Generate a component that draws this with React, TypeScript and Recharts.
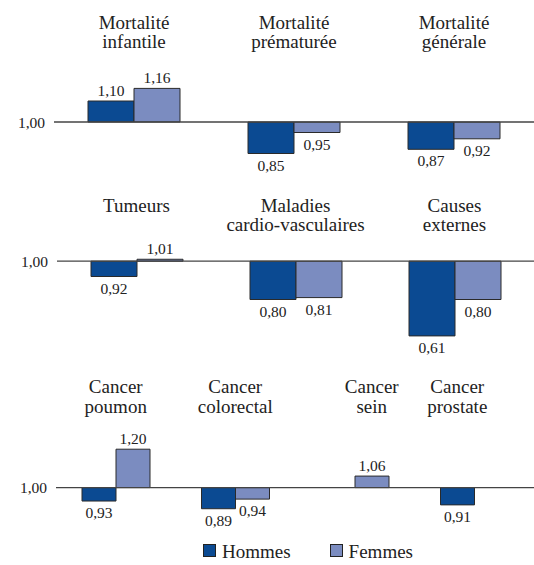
import { BarChart, Bar, XAxis, YAxis, ReferenceLine, LabelList } from "recharts";

const FONT = "Liberation Serif";
const HOMMES = "#0b4a92";
const FEMMES = "#7b8cc0";
const EDGE = "#2a2a2a";

// ligne 1 : mortalité
const cats1 = ["Mortalité\ninfantile", "Mortalité\nprématurée", "Mortalité\ngénérale"];
const hommes1 = [1.10, 0.85, 0.87];
const femmes1 = [1.16, 0.95, 0.92];

// ligne 2 : causes
const cats2 = ["Tumeurs", "Maladies\ncardio-vasculaires", "Causes\nexternes"];
const hommes2 = [0.92, 0.80, 0.61];
const femmes2 = [1.01, 0.81, 0.80];

// ligne 3 : cancers
const cats3 = ["Cancer\npoumon", "Cancer\ncolorectal", "Cancer\nsein", "Cancer\nprostate"];
const hommes3 = [0.93, 0.89, null, 0.91];
const femmes3 = [1.20, 0.94, 1.06, null];

const yTicks = [1];

const series = [
    { key: "hommes", label: "Hommes", color: HOMMES },
    { key: "femmes", label: "Femmes", color: FEMMES },
];

type Row = { name: string; hommes: number | null; femmes: number | null };

const build = (cats: string[], h: (number | null)[], f: (number | null)[]): Row[] =>
    cats.map((name, i) => ({ name, hommes: h[i], femmes: f[i] }));

const fmt = (v: number) => v.toFixed(2).replace(".", ",");

function ValueLabel(props: any) {
    const vb = props.viewBox ?? props;
    const { x, y, width, height } = vb;
    const value = props.value;
    if (value == null || x == null) return null;
    const top = Math.min(y, y + height);
    const bottom = Math.max(y, y + height);
    const ty = value >= 1 ? top - 5 : bottom + 17;
    return (
        <text x={x + width / 2} y={ty} textAnchor="middle" fontFamily={FONT} fontSize={15.5} fill="#222">
            {fmt(value)}
        </text>
    );
}

function TitleTick(props: any) {
    const { x, payload, data, baselines, barSize } = props;
    const row: Row = data[payload.index];
    let cx = x;
    // une seule barre : titre centré sur la barre
    if (row.hommes == null) cx += barSize / 2;
    if (row.femmes == null) cx -= barSize / 2;
    const lines = String(payload.value).split("\n");
    return (
        <text textAnchor="middle" fontFamily={FONT} fontSize={19} fill="#222">
            {lines.map((l, i) => (
                <tspan key={i} x={cx} y={baselines[i]}>{l}</tspan>
            ))}
        </text>
    );
}

function LegendBox() {
    return (
        <div style={{ position: "absolute", left: 0, top: 541, width: 534, display: "flex", alignItems: "center", paddingLeft: 203, boxSizing: "border-box", fontFamily: FONT, fontSize: 19, color: "#222", lineHeight: "22px" }}>
            {series.map((s, i) => (
                <div key={s.key} style={{ display: "flex", alignItems: "center", marginRight: i === 0 ? 39 : 0 }}>
                    <span style={{ display: "inline-block", width: 13, height: 13, background: s.color, border: "1px solid #222", boxSizing: "border-box", marginRight: 6, position: "relative", top: -2 }} />
                    <span>{s.label}</span>
                </div>
            ))}
        </div>
    );
}

type PanelProps = {
    data: Row[];
    height: number;
    axisHeight: number;
    bottom: number;
    domain: [number, number];
    yWidth: number;
    barSize: number;
    baselines: number[];
};

function Panel({ data, height, axisHeight, bottom, domain, yWidth, barSize, baselines }: PanelProps) {
    return (
        <BarChart width={534} height={height} data={data} margin={{ top: 0, right: 0, bottom, left: 0 }} barGap={0} barSize={barSize}>
            <XAxis
                dataKey="name"
                orientation="top"
                height={axisHeight}
                axisLine={false}
                tickLine={false}
                interval={0}
                tick={<TitleTick data={data} baselines={baselines} barSize={barSize} />}
            />
            <YAxis
                type="number"
                domain={domain}
                ticks={yTicks}
                tickFormatter={fmt}
                axisLine={false}
                tickLine={false}
                tickSize={0}
                tickMargin={9}
                width={yWidth}
                tick={{ fontFamily: FONT, fontSize: 15.5, fill: "#222" }}
            />
            {series.map((s) => (
                <Bar
                    key={s.key}
                    name={s.label}
                    dataKey={(d: any) => (d[s.key] == null ? null : [1, d[s.key]])}
                    fill={s.color}
                    stroke={EDGE}
                    strokeWidth={1}
                    isAnimationActive={false}
                >
                    <LabelList dataKey={s.key} content={<ValueLabel />} />
                </Bar>
            ))}
            <ReferenceLine y={1} stroke="#444" strokeWidth={1.3} />
        </BarChart>
    );
}

export default function App() {
    const row1 = build(cats1, hommes1, femmes1);
    const row2 = build(cats2, hommes2, femmes2);
    const row3 = build(cats3, hommes3, femmes3);

    return (
        <div style={{ position: "absolute", left: 0, top: 0, width: 534, height: 565, background: "#fff" }}>
            <Panel data={row1} height={180} axisHeight={80} bottom={16} domain={[0.8, 1.2]} yWidth={54} barSize={46} baselines={[29, 48]} />
            <Panel data={row2} height={180} axisHeight={62} bottom={3} domain={[0.5, 1.1]} yWidth={57} barSize={46} baselines={[31.5, 50.5]} />
            <Panel data={row3} height={180} axisHeight={70} bottom={14} domain={[0.8, 1.3]} yWidth={56} barSize={34} baselines={[33, 52.5]} />
            <LegendBox />
        </div>
    );
}
